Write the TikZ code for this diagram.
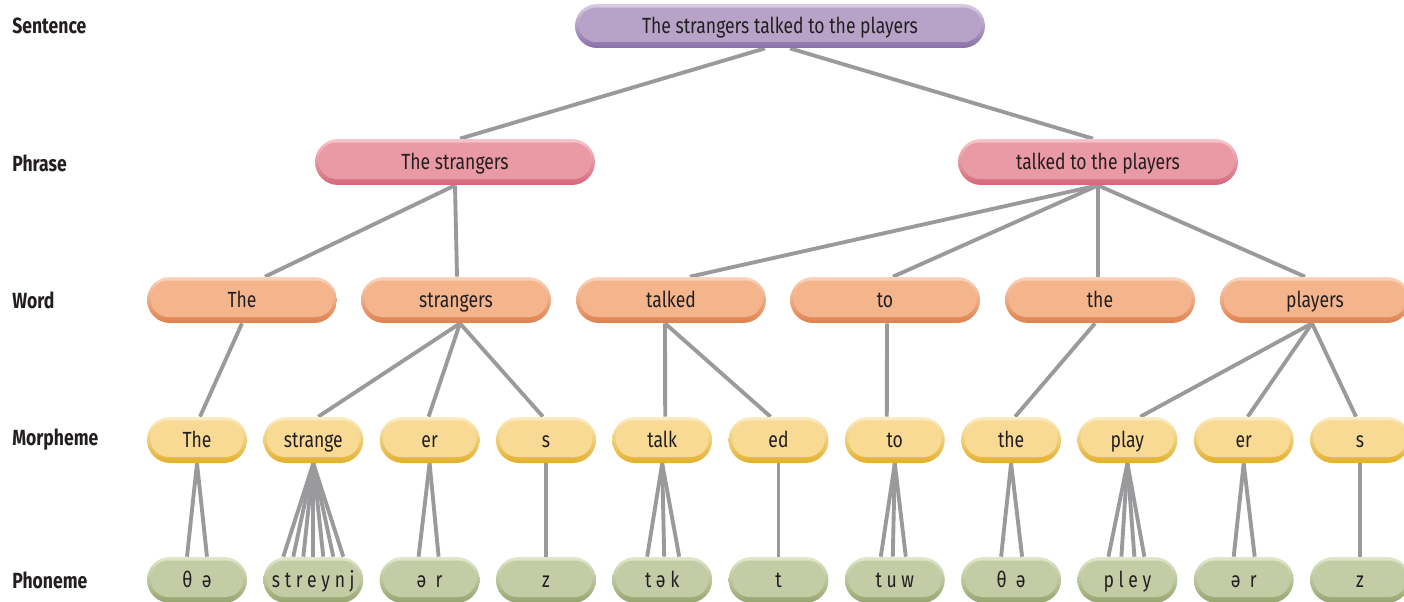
\documentclass[tikz,border=0pt]{standalone}
\usepackage{fontspec}
\setmainfont{Fira Sans}[FakeStretch=0.8]
\usepackage{tikz}
\usetikzlibrary{backgrounds}

\definecolor{ink}{HTML}{231F20}
\definecolor{wire}{HTML}{9A9A9C}
\definecolor{sentbase}{HTML}{B8A3C8}\definecolor{sentlight}{HTML}{D9CCE2}\definecolor{sentdark}{HTML}{8A6FA8}
\definecolor{phrbase}{HTML}{EA9AA5}\definecolor{phrlight}{HTML}{F6C6CC}\definecolor{phrdark}{HTML}{D3677A}
\definecolor{wordbase}{HTML}{F4B58C}\definecolor{wordlight}{HTML}{FAD4BC}\definecolor{worddark}{HTML}{DF814C}
\definecolor{morphbase}{HTML}{F8DA94}\definecolor{morphlight}{HTML}{FCECC3}\definecolor{morphdark}{HTML}{E2B02C}
\definecolor{phonbase}{HTML}{C3CCA5}\definecolor{phonlight}{HTML}{E0E8CA}\definecolor{phondark}{HTML}{96A46D}

\tikzset{
  pill/.style={minimum height=0.92cm, rounded corners=0.46cm, inner sep=0pt,
    text=ink, font=\fontsize{12.5}{14}\selectfont, text height=0.85em, text depth=0pt,
    top color=#1light, middle color=#1base, bottom color=#1dark,
    path picture={\fill[#1base, rounded corners=0.36cm]
      ([xshift=0.07cm,yshift=0.12cm]path picture bounding box.south west) rectangle
      ([xshift=-0.07cm,yshift=-0.07cm]path picture bounding box.north east);}},
  level/.style={anchor=west, inner sep=0pt, text=ink, font=\fontsize{12.5}{14}\selectfont\bfseries},
  link/.style={draw=wire, line width=2.2pt}
}

\begin{document}
\begin{tikzpicture}[x=0.02cm, y=-0.02cm]
\useasboundingbox (0,0) rectangle (1404,602);

\node[level] (lsent) at (12,26) {Sentence};
\node[level] (lphr) at (12,163) {Phrase};
\node[level] (lword) at (12,300) {Word};
\node[level] (lmorph) at (12,440) {Morpheme};
\node[level] (lphon) at (12,580) {Phoneme};

\node[pill=sent, minimum width=8.2cm, minimum height=0.88cm, rounded corners=0.44cm] (sent) at (780,26) {The strangers talked to the players};
\node[pill=phr, minimum width=5.6cm] (phrA) at (455,162) {The strangers};
\node[pill=phr, minimum width=5.6cm] (phrB) at (1098,162) {talked to the players};

\foreach \i/\x/\t in {1/242/The, 2/456/strangers, 3/671/talked, 4/885/to, 5/1100/the, 6/1315/players}
  \node[pill=word, minimum width=3.8cm] (w\i) at (\x,300) {\t};

\foreach \i/\t/\p in {1/The/θ\ \ ə, 2/strange/s t r e y n j, 3/er/ə\ \ r, 4/s/z, 5/talk/t ə k, 6/ed/t,
  7/to/t u w, 8/the/θ\ \ ə, 9/play/p l e y, 10/er/ə\ \ r, 11/s/z}
{ \node[pill=morph, minimum width=2cm] (m\i) at ({197+116.3*(\i-1)},440) {\t};
  \node[pill=phon, minimum width=2cm] (p\i) at ({197+116.3*(\i-1)},580) {\p};
}

\begin{scope}[on background layer]
\draw[link] ([xshift=-0.3cm]sent.south) -- ([xshift=0.1cm]phrA.north);
\draw[link] ([xshift=0.2cm]sent.south) -- ([xshift=-0.1cm]phrB.north);
\foreach \w/\s in {1/23, 2/1}
  \draw[link] (phrA.south) -- ([xshift=\s*0.02cm]w\w.north);
\foreach \w/\s in {3/19, 4/8, 5/-2, 6/-10}
  \draw[link] (phrB.south) -- ([xshift=\s*0.02cm]w\w.north);
\foreach \w/\a/\m/\s in {1/0/1/3, 2/4/2/5, 2/4/3/-1, 2/4/4/-3, 3/-6/5/3, 3/-6/6/-8,
  4/2/7/-8, 5/-5/8/4, 6/-3/9/13, 6/-3/10/4, 6/-3/11/-4}
  \draw[link] ([xshift=\a*0.02cm]w\w.south) -- ([xshift=\s*0.02cm]m\m.north);
\foreach \m/\offs in {1/{-10,10}, 2/{-30,-20,-10,0,10,20,30}, 3/{-11,9}, 4/{0},
  5/{-15,2,17}, 6/{0}, 7/{-14,-2,11}, 8/{-10,11}, 9/{-19,-6,7,17}, 10/{-10,11}, 11/{0}}
  \foreach \o in \offs
    \draw[link] (m\m.south) -- ([xshift=\o*0.02cm]p\m.north);
\end{scope}
\end{tikzpicture}
\end{document}
